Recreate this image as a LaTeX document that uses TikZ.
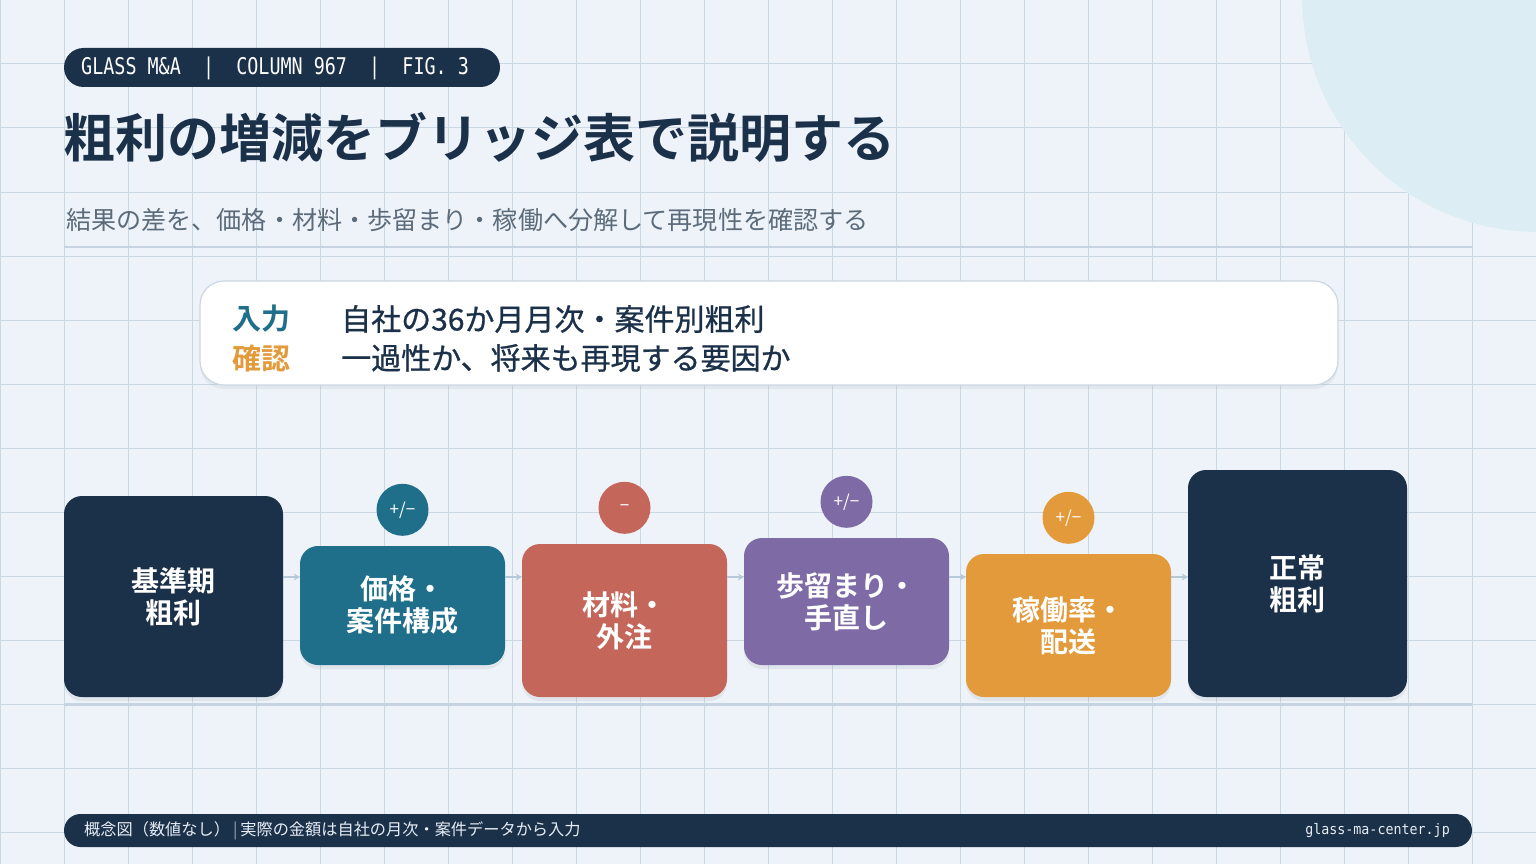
\documentclass[tikz,border=0pt]{standalone}
\usepackage{fontspec}
\usetikzlibrary{shadows,arrows.meta,calc}
\newfontfamily\jp{Noto Sans CJK JP}[BoldFont={Noto Sans CJK JP Bold}]
\newfontfamily\jpm{Noto Sans CJK JP}[FakeBold=0.8]
\newfontfamily\mono{DejaVu Sans Mono}[FakeStretch=0.8]
\newfontfamily\monoc{DejaVu Sans Mono}[FakeStretch=0.92]
\definecolor{bg}{HTML}{EEF3FA}
\definecolor{gridc}{HTML}{CAD8E4}
\definecolor{sepc}{HTML}{C5D4E1}
\definecolor{navy}{HTML}{1B3049}
\definecolor{cteal}{HTML}{1F6F8B}
\definecolor{cred}{HTML}{C4675A}
\definecolor{cpurp}{HTML}{7E6BA6}
\definecolor{corange}{HTML}{E39A3A}
\definecolor{circc}{HTML}{DCEDF3}
\definecolor{subg}{HTML}{5C6B7A}
\definecolor{arrowc}{HTML}{B7C9D6}
\definecolor{foott}{HTML}{E6EDF5}
\definecolor{infob}{HTML}{CBD7E2}
\begin{document}
\begin{tikzpicture}[x=1pt,y=-1pt,
  bar/.style={rounded corners=18pt, inner sep=0pt, text=white, align=center,
    font=\jp\bfseries\fontsize{28}{32}\selectfont,
    drop shadow={opacity=0.12, shadow xshift=0pt, shadow yshift=-4pt}},
  badge/.style={circle, minimum size=52pt, inner sep=0pt, text=white,
    font=\jp\fontsize{17}{17}\selectfont},
  conn/.style={arrowc, line width=2pt, -{Stealth[length=6pt,width=7pt]}},
  lbl/.style={anchor=west, inner sep=0pt}
]
\fill[bg] (0,0) rectangle (1536,864);
\useasboundingbox (0,0) rectangle (1536,864);
% grid
\foreach \i in {0,64,...,1536} \draw[gridc, line width=1pt] (\i,0) -- (\i,864);
\foreach \j in {0,64,...,832} \draw[gridc, line width=1pt] (0,\j) -- (1536,\j);
% corner circle
\fill[circc] (1538,-4) circle[radius=236pt];
% header badge
\node[fill=navy, rounded corners=19.5pt, minimum width=436pt, minimum height=39pt, inner sep=0pt] (badge) at (282,67.5) {};
\node[lbl, text=white, font=\mono\fontsize{23}{23}\selectfont] (badgetxt) at (81,68.5) {GLASS M\&A\ \ |\ \ COLUMN 967\ \ |\ \ FIG. 3};
% title
\node[lbl, text=navy, font=\jp\bfseries\fontsize{52}{52}\selectfont] (title) at (63,137) {粗利の増減をブリッジ表で説明する};
\node[lbl, text=subg, font=\jp\fontsize{25.1}{26}\selectfont] (sub) at (66,220) {結果の差を、価格・材料・歩留まり・稼働へ分解して再現性を確認する};
\draw[sepc, line width=2pt] (64,247) -- (1472,247);
% info box
\node[fill=white, draw=infob, line width=1.2pt, rounded corners=24pt, minimum width=1138pt, minimum height=104pt, inner sep=0pt,
  drop shadow={opacity=0.10, shadow xshift=0pt, shadow yshift=-4pt}] (info) at (769,333) {};
\node[lbl, text=cteal, font=\jp\bfseries\fontsize{29}{29}\selectfont] (l1) at (232,319) {入力};
\node[lbl, text=corange, font=\jp\bfseries\fontsize{29}{29}\selectfont] (l2) at (232,358) {確認};
\node[lbl, text=navy, font=\jpm\fontsize{30}{30}\selectfont] (t1) at (341,319) {自社の36か月月次・案件別粗利};
\node[lbl, text=navy, font=\jpm\fontsize{30}{30}\selectfont] (t2) at (341,358) {一過性か、将来も再現する要因か};
% bridge boxes
\node[bar, fill=navy, minimum width=219pt, minimum height=201pt] (b1) at (173.5,596.5) {基準期\\粗利};
\node[bar, fill=cteal, minimum width=205pt, minimum height=119pt] (b2) at (402.5,605.5) {価格・\\案件構成};
\node[bar, fill=cred, minimum width=205pt, minimum height=153pt] (b3) at (624.5,620.5) {材料・\\外注};
\node[bar, fill=cpurp, minimum width=205pt, minimum height=127pt] (b4) at (846.5,601.5) {歩留まり・\\手直し};
\node[bar, fill=corange, minimum width=205pt, minimum height=143pt] (b5) at (1068.5,625.5) {稼働率・\\配送};
\node[bar, fill=navy, minimum width=219pt, minimum height=227pt] (b6) at (1297.5,583.5) {正常\\粗利};
% badges
\node[badge, fill=cteal] (c2) at ([yshift=36pt]b2.north) {+/−};
\node[badge, fill=cred] (c3) at ([yshift=36pt]b3.north) {−};
\node[badge, fill=cpurp] (c4) at ([yshift=36pt]b4.north) {+/−};
\node[badge, fill=corange] (c5) at ([yshift=36pt]b5.north) {+/−};
% connectors
\coordinate (ay) at (0,577);
\draw[conn] (b1.east |- ay) -- (b2.west |- ay);
\draw[conn] (b2.east |- ay) -- (b3.west |- ay);
\draw[conn] (b3.east |- ay) -- (b4.west |- ay);
\draw[conn] (b4.east |- ay) -- (b5.west |- ay);
\draw[conn] (b5.east |- ay) -- (b6.west |- ay);
% baseline
\draw[sepc, line width=3pt] (64,704.5) -- (1472,704.5);
% footer
\node[fill=navy, rounded corners=16.5pt, minimum width=1408pt, minimum height=33pt, inner sep=0pt] (foot) at (768,830.5) {};
\node[lbl, text=foott, font=\jp\fontsize{16.2}{17}\selectfont] (ftl) at (84,831) {概念図（数値なし）\hspace{3pt}\textcolor{subg!60!white}{|}\hspace{3pt}実際の金額は自社の月次・案件データから入力};
\node[anchor=east, inner sep=0pt, text=foott, font=\monoc\fontsize{14.5}{15}\selectfont] (ftr) at (1450,831) {glass-ma-center.jp};
\end{tikzpicture}
\end{document}
